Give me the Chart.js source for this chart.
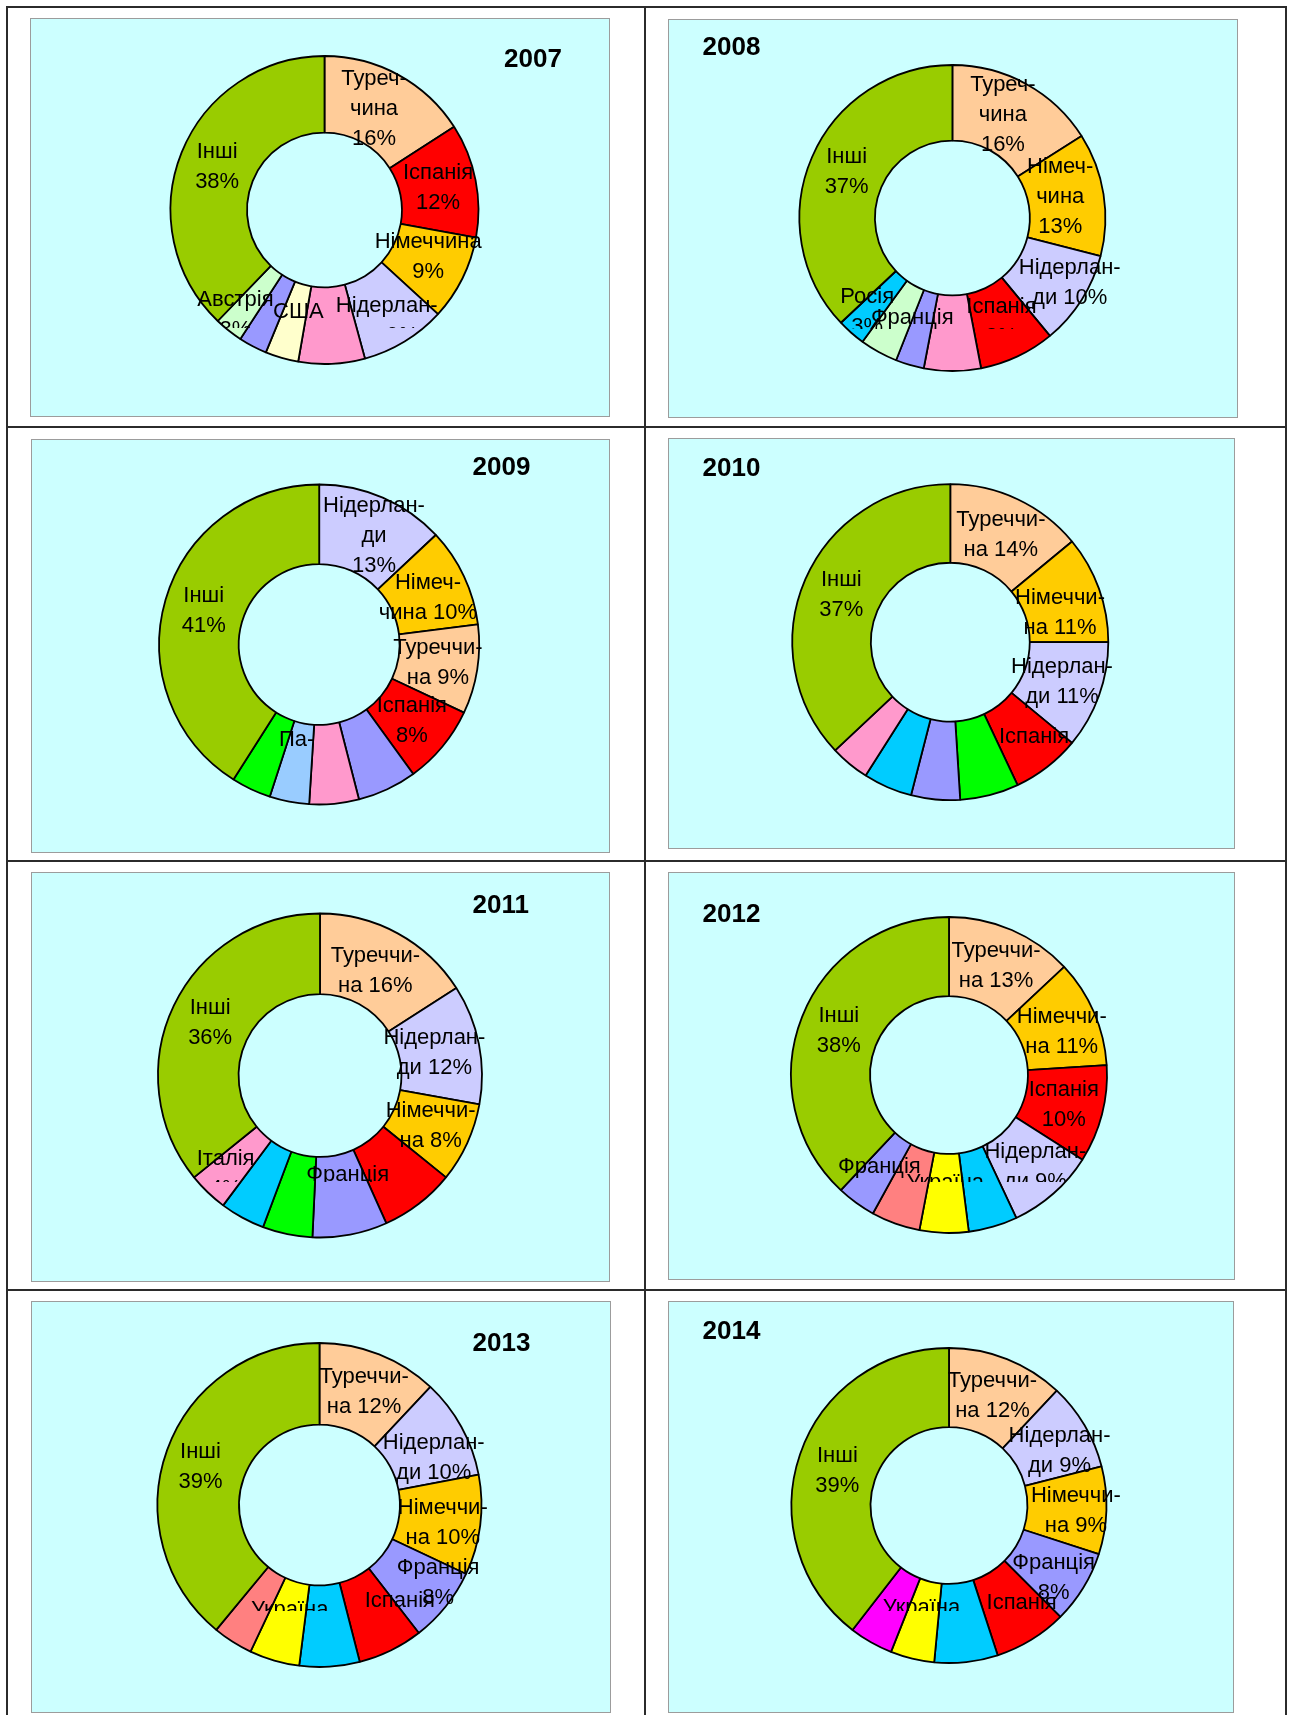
<!DOCTYPE html>
<html><head><meta charset="utf-8">
<script src="https://cdn.jsdelivr.net/npm/chart.js@4.4.0/dist/chart.umd.min.js"></script>
<style>
body{margin:0;background:#fff;}
#page{position:relative;width:1290px;height:1715px;overflow:hidden;background:#fff;}
.ln{position:absolute;background:#2b2b2b;}
.panel{position:absolute;background:#CCFFFF;border:1px solid #9c9c9c;box-sizing:border-box;}
canvas{position:absolute;}
.title{position:absolute;font:bold 26px "Liberation Sans", Arial, sans-serif;color:#000;line-height:26px;white-space:nowrap;}
</style></head><body><div id="page"></div>
<script>
// ---------------- DATA ----------------
const years = ['2007','2008','2009','2010','2011','2012','2013','2014'];

const cat2007 = ['Туреччина','Іспанія','Німеччина','Нідерланди','Італія','США','Франція','Австрія','Інші'];
const val2007 = [16, 12, 9, 9, 7, 3.5, 3, 3, 38];
const txt2007 = ['Туреч-\nчина\n16%','Іспанія\n12%','Німеччина\n9%','Нідерлан-\nди 9%','','США\n3%','','Австрія\n3%','Інші\n38%'];

const cat2008 = ['Туреччина','Німеччина','Нідерланди','Іспанія','Італія','Франція','Австрія','Росія','Інші'];
const val2008 = [16, 13, 10, 8, 6, 3, 4, 3, 37];
const txt2008 = ['Туреч-\nчина\n16%','Німеч-\nчина\n13%','Нідерлан-\nди 10%','Іспанія\n8%','','Франція\n3%','','Росія\n3%','Інші\n37%'];

const cat2009 = ['Нідерланди','Німеччина','Туреччина','Іспанія','Франція','Італія','Па-','Інша країна','Інші'];
const val2009 = [13, 10, 9, 8, 6, 5, 4, 4, 41];
const txt2009 = ['Нідерлан-\nди\n13%','Німеч-\nчина 10%','Туреччи-\nна 9%','Іспанія\n8%','','','Па-','','Інші\n41%'];

const cat2010 = ['Туреччина','Німеччина','Нідерланди','Іспанія','Інша країна','Франція','Росія','Італія','Інші'];
const val2010 = [14, 11, 11, 7, 6, 5, 5, 4, 37];
const txt2010 = ['Туреччи-\nна 14%','Німеччи-\nна 11%','Нідерлан-\nди 11%','Іспанія\n7%','','','','','Інші\n37%'];

const cat2011 = ['Туреччина','Нідерланди','Німеччина','Іспанія','Франція','Інша країна','Росія','Італія','Інші'];
const val2011 = [16, 12, 8, 7.5, 7.5, 5, 4.5, 4, 36];
const txt2011 = ['Туреччи-\nна 16%','Нідерлан-\nди 12%','Німеччи-\nна 8%','','Франція\n8%','','','Італія\n4%','Інші\n36%'];

const cat2012 = ['Туреччина','Німеччина','Іспанія','Нідерланди','Росія','Україна','Інша країна','Франція','Інші'];
const val2012 = [13, 11, 10, 9, 5, 5, 5, 4, 38];
const txt2012 = ['Туреччи-\nна 13%','Німеччи-\nна 11%','Іспанія\n10%','Нідерлан-\nди 9%','','Україна\n5%','','Франція\n4%','Інші\n38%'];

const cat2013 = ['Туреччина','Нідерланди','Німеччина','Франція','Іспанія','Росія','Україна','Інша країна','Інші'];
const val2013 = [12, 10, 10, 7.5, 6.5, 6, 5, 4, 39];
const txt2013 = ['Туреччи-\nна 12%','Нідерлан-\nди 10%','Німеччи-\nна 10%','Франція\n8%','Іспанія\n7%','','Україна\n5%','','Інші\n39%'];

const cat2014 = ['Туреччина','Нідерланди','Німеччина','Франція','Іспанія','Росія','Україна','Інша країна','Інші'];
const val2014 = [12, 9, 9, 7.5, 7.5, 6.5, 4.5, 4.5, 39.5];
const txt2014 = ['Туреччи-\nна 12%','Нідерлан-\nди 9%','Німеччи-\nна 9%','Франція\n8%','Іспанія\n7%','','Україна\n5%','','Інші\n39%'];

// ---------------- STYLES / COLOURS ----------------
const col2007 = ['#FFCC99','#FF0000','#FFCC00','#CCCCFF','#FF99CC','#FFFFCC','#9999FF','#CCFFCC','#99CC00'];
const col2008 = ['#FFCC99','#FFCC00','#CCCCFF','#FF0000','#FF99CC','#9999FF','#CCFFCC','#00CCFF','#99CC00'];
const col2009 = ['#CCCCFF','#FFCC00','#FFCC99','#FF0000','#9999FF','#FF99CC','#99CCFF','#00FF00','#99CC00'];
const col2010 = ['#FFCC99','#FFCC00','#CCCCFF','#FF0000','#00FF00','#9999FF','#00CCFF','#FF99CC','#99CC00'];
const col2011 = ['#FFCC99','#CCCCFF','#FFCC00','#FF0000','#9999FF','#00FF00','#00CCFF','#FF99CC','#99CC00'];
const col2012 = ['#FFCC99','#FFCC00','#FF0000','#CCCCFF','#00CCFF','#FFFF00','#FF8080','#9999FF','#99CC00'];
const col2013 = ['#FFCC99','#CCCCFF','#FFCC00','#9999FF','#FF0000','#00CCFF','#FFFF00','#FF8080','#99CC00'];
const col2014 = ['#FFCC99','#CCCCFF','#FFCC00','#9999FF','#FF0000','#00CCFF','#FFFF00','#FF00FF','#99CC00'];

// ---------------- LAYOUT (page pixels) ----------------
const layout = {
  '2007': {panel:[30,18,580,399],  c:[324.5,210],  R:154, r:77, title:[504,58]},
  '2008': {panel:[668,19,570,399], c:[952.4,218],  R:153, r:77, title:[702.5,45.5]},
  '2009': {panel:[31,439,579,414], c:[319.2,644.5],R:160, r:80, title:[472.5,466]},
  '2010': {panel:[668,438,567,411],c:[950.3,642.2],R:158, r:79, title:[702.5,467]},
  '2011': {panel:[31,872,579,410], c:[320,1075.5], R:162, r:81, title:[472.5,904]},
  '2012': {panel:[668,872,567,408],c:[949,1075],   R:158, r:78.5, title:[702.5,912.5]},
  '2013': {panel:[31,1301,580,412],c:[319.5,1505], R:162, r:80, title:[472.5,1342]},
  '2014': {panel:[668,1301,566,412],c:[949,1505.5],R:157.5, r:78, title:[702.5,1329.5]}
};
// label nudges from the ring centroid, [dx, dy] by slice index
const labelOffsets = {
  '2007': {0:[-6,0], 2:[0,-5], 3:[2,12], 5:[6,6], 7:[-17,14]},
  '2008': {0:[-5,-2], 1:[-6,-3], 2:[20,3], 5:[-8,4], 7:[-9,8]},
  '2009': {0:[7,2], 1:[0,5], 6:[0,-23]},
  '2010': {1:[-2,11], 3:[11,16]},
  '2011': {0:[-3,2], 1:[-5,1], 4:[5,-5], 7:[-10,11]},
  '2012': {1:[4,4], 3:[8,3], 5:[0,5], 7:[0,11]},
  '2013': {1:[8,11], 2:[3,3], 3:[24,2], 4:[27,2], 6:[4,4], 8:[-5,3]},
  '2014': {1:[9,5], 2:[9,2], 3:[4,11], 4:[11,12], 6:[0,3], 8:[0,4]}
};
const LABEL_CLIP = 310;   // labels hidden below this line (from panel top)

const page = document.getElementById('page');
function line(x,y,w,h){const d=document.createElement('div');d.className='ln';Object.assign(d.style,{left:x+'px',top:y+'px',width:w+'px',height:h+'px'});page.appendChild(d);}
[6,426,860,1289].forEach(y=>line(6,y,1281,2));
[6,643.5,1284.5].forEach(x=>line(x,6,2,1709));

const sliceLabels = {
  id:'sliceLabels',
  afterDatasetsDraw(chart, args, o){
    const ctx = chart.ctx, meta = chart.getDatasetMeta(0);
    ctx.save();
    ctx.beginPath(); ctx.rect(0,0,chart.width,o.clipY); ctx.clip();
    ctx.font = o.font; ctx.fillStyle = '#000';
    ctx.textAlign = 'center'; ctx.textBaseline = 'middle';
    meta.data.forEach((arc,i)=>{
      const t = o.texts[i]; if(!t) return;
      const p = arc.getProps(['x','y','startAngle','endAngle','innerRadius','outerRadius'], true);
      const a = (p.startAngle+p.endAngle)/2, rm = (p.innerRadius+p.outerRadius)/2;
      const off = (o.offsets && o.offsets[i]) || [0,0];
      const x = p.x + Math.cos(a)*rm + off[0], y = p.y + Math.sin(a)*rm + off[1];
      const lines = t.split('\n');
      lines.forEach((s,k)=>ctx.fillText(s, x, y + (k-(lines.length-1)/2)*o.lineHeight));
    });
    ctx.restore();
  }
};

const sets = {
  '2007':[cat2007,val2007,txt2007,col2007], '2008':[cat2008,val2008,txt2008,col2008],
  '2009':[cat2009,val2009,txt2009,col2009], '2010':[cat2010,val2010,txt2010,col2010],
  '2011':[cat2011,val2011,txt2011,col2011], '2012':[cat2012,val2012,txt2012,col2012],
  '2013':[cat2013,val2013,txt2013,col2013], '2014':[cat2014,val2014,txt2014,col2014]
};

years.forEach(yr=>{
  const L = layout[yr]; const [px,py,pw,ph] = L.panel;
  const pnl = document.createElement('div'); pnl.className='panel';
  Object.assign(pnl.style,{left:px+'px',top:py+'px',width:pw+'px',height:ph+'px'});
  page.appendChild(pnl);
  const cv = document.createElement('canvas'); cv.width=pw; cv.height=ph;
  Object.assign(cv.style,{left:px+'px',top:py+'px',width:pw+'px',height:ph+'px'});
  page.appendChild(cv);
  const tt = document.createElement('div'); tt.className='title'; tt.textContent=yr;
  Object.assign(tt.style,{left:L.title[0]+'px',top:(L.title[1]-13)+'px'});
  page.appendChild(tt);
  const [cats,vals,txts,cols] = sets[yr];
  const cx = L.c[0]-px, cy = L.c[1]-py;
  new Chart(cv,{
    type:'doughnut',
    data:{labels:cats,datasets:[{data:vals,backgroundColor:cols,borderColor:'#000',borderWidth:1.8}]},
    options:{
      responsive:false, animation:false, events:[], devicePixelRatio:1,
      radius:L.R, cutout:L.r,
      layout:{padding:{left:cx-L.R,right:pw-cx-L.R,top:cy-L.R,bottom:ph-cy-L.R}},
      plugins:{legend:{display:false},tooltip:{enabled:false},title:{display:false},
        sliceLabels:{texts:txts,offsets:labelOffsets[yr],clipY:LABEL_CLIP,font:'22px "Liberation Sans", Arial, sans-serif',lineHeight:30}}
    },
    plugins:[sliceLabels]
  });
});
</script></body></html>
